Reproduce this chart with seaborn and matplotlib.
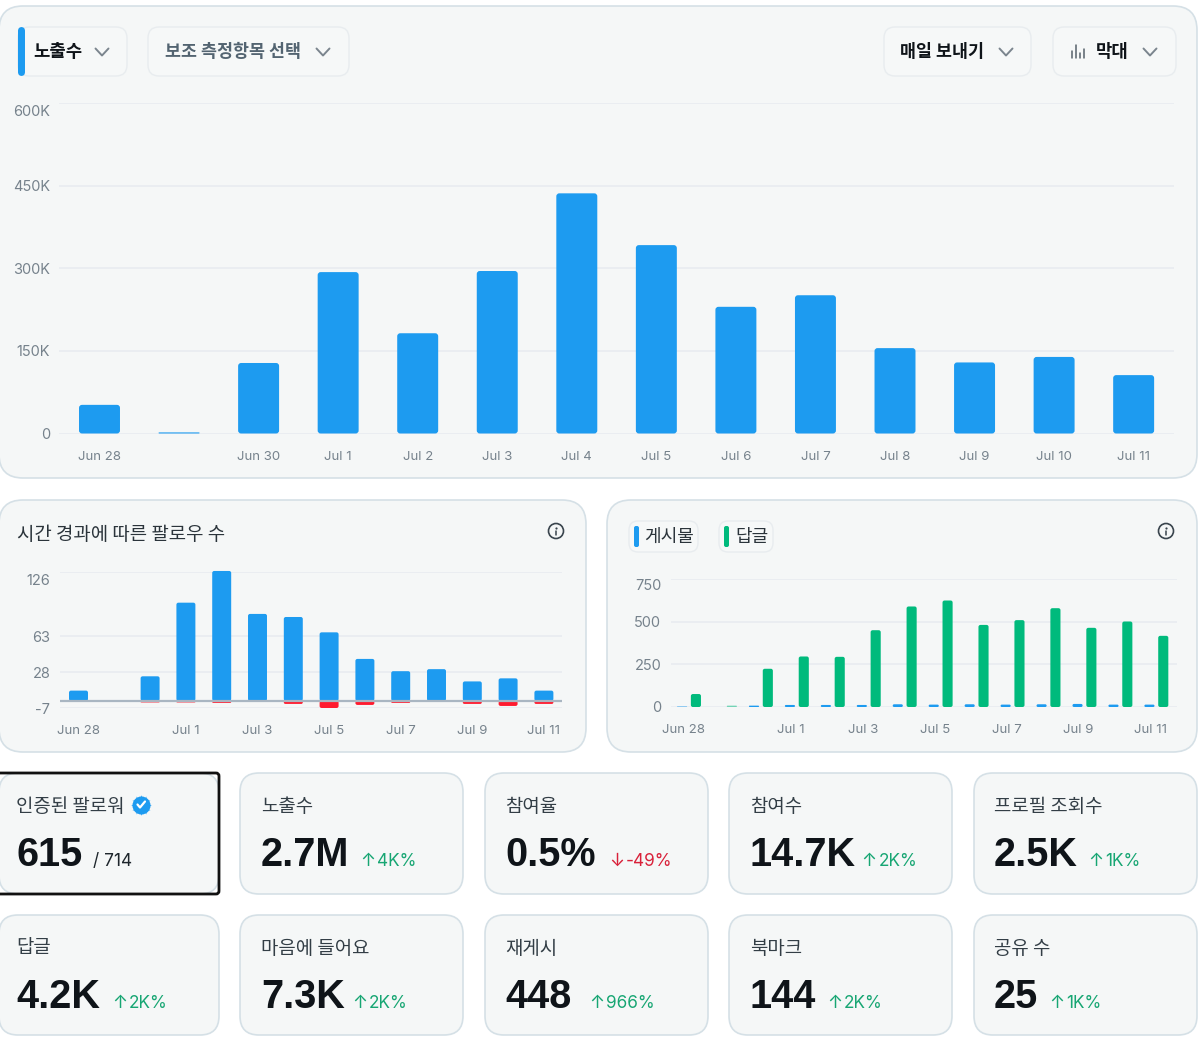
import matplotlib
matplotlib.use("Agg")
import matplotlib.pyplot as plt
import pandas as pd
import seaborn as sns
from matplotlib.patches import FancyBboxPatch, Circle
from matplotlib.transforms import ScaledTranslation

# ---- data ----
days = ["Jun 28", "Jun 29", "Jun 30", "Jul 1", "Jul 2", "Jul 3", "Jul 4",
        "Jul 5", "Jul 6", "Jul 7", "Jul 8", "Jul 9", "Jul 10", "Jul 11"]
impressions = [52, 2, 128, 293, 182, 295, 436, 342, 230, 251, 155, 129, 139, 106]
impression_ticks = [0, 150, 300, 450, 600]
impression_tick_labels = ["0", "150K", "300K", "450K", "600K"]
impression_day_labels = ["Jun 28", "", "Jun 30", "Jul 1", "Jul 2", "Jul 3", "Jul 4",
                         "Jul 5", "Jul 6", "Jul 7", "Jul 8", "Jul 9", "Jul 10", "Jul 11"]

follows = [10, 0, 24, 96, 127, 85, 82, 67, 41, 29, 31, 19, 22, 10]
unfollows = [0, 0, -2, -2, -2, 0, -3, -7, -4, -2, -1, -3, -5, -3]
follower_ticks = [-7, 28, 63, 126]
sparse_day_labels = ["Jun 28", "", "", "Jul 1", "", "Jul 3", "", "Jul 5", "",
                     "Jul 7", "", "Jul 9", "", "Jul 11"]

posts = [5, 0, 8, 12, 12, 12, 16, 14, 16, 14, 16, 18, 14, 14]
replies = [76, 8, 224, 296, 294, 450, 589, 624, 481, 509, 579, 464, 501, 417]
activity_ticks = [0, 250, 500, 750]

kpi_titles = ["인증된 팔로워", "노출수", "참여율", "참여수", "프로필 조회수",
              "답글", "마음에 들어요", "재게시", "북마크", "공유 수"]
kpi_values = ["615", "2.7M", "0.5%", "14.7K", "2.5K", "4.2K", "7.3K", "448", "144", "25"]
kpi_deltas = ["/ 714", "4K%", "-49%", "2K%", "1K%", "2K%", "2K%", "966%", "2K%", "1K%"]

# ---- layout and colours ----
W, H = 1200, 1040
BLUE, GREEN, RED = "#1D9BF0", "#00BA7C", "#FF1A2E"
CARD, EDGE, GRID = "#F5F7F7", "#D5E0E6", "#E8ECF0"
INK, MUTED, SOFT = "#0F1419", "#536471", "#76828C"
UP, DOWN = "#17A673", "#D9213A"

sns.set_theme(style="white")
plt.rcParams["font.family"] = ["Inter", "Noto Sans CJK KR", "DejaVu Sans"]
HANGUL = ["Noto Sans CJK KR", "DejaVu Sans"]

fig = plt.figure(figsize=(W / 100, H / 100), dpi=100, facecolor="white")
bg = fig.add_axes([0, 0, 1, 1], zorder=0)
bg.set_xlim(0, W)
bg.set_ylim(H, 0)
bg.axis("off")


def card(x0, y0, x1, y1, r=20, fc=CARD, ec=EDGE, lw=1.2):
    bg.add_patch(FancyBboxPatch((x0 + r, y0 + r), x1 - x0 - 2 * r, y1 - y0 - 2 * r,
                                boxstyle=f"round,pad={r},rounding_size={r}",
                                fc=fc, ec=ec, lw=lw))


def chevron(x, y, color="#7B858E"):
    bg.plot([x - 6.5, x, x + 6.5], [y - 3.5, y + 3.5, y - 3.5], color=color, lw=1.4,
            solid_capstyle="round", solid_joinstyle="round")


def info_icon(x, y):
    bg.add_patch(Circle((x, y), 7.5, fc="none", ec="#39444D", lw=1.2))
    bg.plot([x, x], [y + 0.2, y + 3.8], color="#39444D", lw=1.1)
    bg.plot([x], [y - 3.2], "o", ms=1.6, color="#39444D", mew=0)


def pill(x0, x1, y0, y1, label, tx, weight="bold", color=INK, size=12.8):
    card(x0, y0, x1, y1, r=11, fc="#F6F8F8", ec="#E8ECEF", lw=1)
    bg.text(tx, (y0 + y1) / 2 + 0.5, label, family=HANGUL, fontsize=size, fontweight=weight,
            color=color, va="center", ha="left")


def chart_axes(x0, x1, y_top, y_bottom, first_px, step_px, ylim):
    ax = fig.add_axes([x0 / W, 1 - y_bottom / H, (x1 - x0) / W, (y_bottom - y_top) / H], zorder=2)
    ax.patch.set_alpha(0)
    ax.set_xlim((x0 - first_px) / step_px, (x1 - first_px) / step_px)
    ax.set_ylim(*ylim)
    return ax


def round_bars(ax, radius_px, faint=()):
    """Swap the rectangles seaborn drew for rounded ones of the same size."""
    bb = ax.get_position()
    x_per_px = (ax.get_xlim()[1] - ax.get_xlim()[0]) / (bb.width * W)
    y_per_px = (ax.get_ylim()[1] - ax.get_ylim()[0]) / (bb.height * H)
    for c_idx, container in enumerate(ax.containers):
        for b_idx, rect in enumerate(container):
            x, y, w, h = rect.get_x(), rect.get_y(), rect.get_width(), rect.get_height()
            color = rect.get_facecolor()
            rect.remove()
            if h == 0:
                continue
            h_px = abs(h) / y_per_px
            r = min(radius_px, h_px / 2, w / x_per_px / 2) * x_per_px
            y0 = min(y, y + h)
            alpha = 0.5 if (c_idx, b_idx) in faint else 1
            ax.add_patch(FancyBboxPatch((x, y0), w, abs(h),
                                        boxstyle=f"round,pad=0,rounding_size={r}",
                                        mutation_aspect=y_per_px / x_per_px,
                                        fc=color, ec="none", alpha=alpha,
                                        clip_on=False, zorder=3))


def style_axes(ax, yticks, ylabels, xlabels, xpad, top_shift_px=0, ypad=7):
    ax.set_xlabel("")
    ax.set_ylabel("")
    ax.set_yticks(yticks, ylabels)
    ax.set_xticks(range(len(xlabels)), xlabels)
    ax.tick_params(axis="x", length=0, pad=xpad, labelsize=9.5, labelcolor=SOFT)
    ax.tick_params(axis="y", length=0, pad=ypad, labelsize=10.5, labelcolor=SOFT)
    ax.grid(axis="y", color=GRID, lw=1.2, zorder=0)
    ax.set_axisbelow(True)
    sns.despine(ax=ax, left=True, bottom=True)
    top_label = ax.get_yticklabels()[-1]
    top_label.set_transform(top_label.get_transform()
                            + ScaledTranslation(0, -top_shift_px / 100, fig.dpi_scale_trans))


# ---- panels ----
card(-1, 6, 1197, 478, r=24)
card(-1, 500, 586, 752, r=24)
card(607, 500, 1197, 752, r=24)

pill(18, 127, 27, 76, "노출수", 33)
bg.add_patch(FancyBboxPatch((18, 27), 7, 49, boxstyle="round,pad=0,rounding_size=4", fc=BLUE, ec="none"))
chevron(102, 52)
pill(148, 349, 27, 76, "보조 측정항목 선택", 165, color=MUTED, size=12.5)
chevron(323, 52)
pill(884, 1031, 27, 76, "매일 보내기", 900, size=12.5)
chevron(1006, 52)
pill(1053, 1176, 27, 76, "막대", 1096)
chevron(1150, 52)
for bx, bh in zip([1072, 1076, 1080, 1084], [7, 13, 5, 9]):
    bg.plot([bx, bx], [58, 58 - bh], color="#56616B", lw=1.1)

bg.text(17, 534.5, "시간 경과에 따른 팔로우 수", family=HANGUL, fontsize=13.6, color="#2B343B",
        fontweight="medium", va="center")
info_icon(556, 531)
info_icon(1166, 531)

for x0, x1, tx, col, label in [(629, 698, 644, BLUE, "게시물"), (719, 773, 735, GREEN, "답글")]:
    card(x0, 521, x1, 552, r=9, fc="#F6F8F8", ec="#E8ECEF", lw=1)
    bg.add_patch(FancyBboxPatch((x0 + 5, 526), 5, 21, boxstyle="round,pad=0,rounding_size=2", fc=col, ec="none"))
    bg.text(tx, 537, label, family=HANGUL, fontsize=13, color="#2B343B", fontweight="medium",
            va="center", ha="left")

# ---- main impressions chart ----
ax1 = chart_axes(59, 1174, 103, 433.5, 99.5, 79.55, (0, 600))
sns.barplot(data=pd.DataFrame({"day": days, "impressions": impressions}), x="day", y="impressions",
            color=BLUE, saturation=1, width=0.515, ax=ax1)
ax1.set_xlim((59 - 99.5) / 79.55, (1174 - 99.5) / 79.55)
round_bars(ax1, 3)
style_axes(ax1, impression_ticks, impression_tick_labels, impression_day_labels, 12.3, top_shift_px=7, ypad=6.5)

# ---- followers over time ----
ax2 = chart_axes(60, 562, 572, 708, 78.5, 35.8, (-7, 126))
follower_frame = pd.DataFrame({"day": days, "follows": follows, "unfollows": unfollows})
sns.barplot(data=follower_frame, x="day", y="unfollows", color=RED, saturation=1, width=0.53, ax=ax2)
sns.barplot(data=follower_frame, x="day", y="follows", color=BLUE, saturation=1, width=0.53, ax=ax2)
ax2.set_xlim((60 - 78.5) / 35.8, (562 - 78.5) / 35.8)
ax2.set_ylim(-7, 126)
round_bars(ax2, 2, faint={(0, 2), (0, 3), (0, 10)})
ax2.axhline(0, color="#A9B6C2", lw=1.6, zorder=4)
style_axes(ax2, follower_ticks, [str(t) for t in follower_ticks], sparse_day_labels, 12.3, top_shift_px=7, ypad=7)

# ---- posts and replies ----
ax3 = chart_axes(671, 1177, 579, 707, 689, 35.95, (0, 750))
activity = pd.DataFrame({"day": days * 2, "count": posts + replies,
                         "kind": ["게시물"] * len(days) + ["답글"] * len(days)})
sns.barplot(data=activity, x="day", y="count", hue="kind", palette=[BLUE, GREEN], saturation=1,
            width=0.77, gap=0.27, legend=False, ax=ax3)
ax3.set_xlim((671 - 689) / 35.95, (1177 - 689) / 35.95)
round_bars(ax3, 2, faint={(0, 0), (1, 1)})
style_axes(ax3, activity_ticks, [str(t) for t in activity_ticks], sparse_day_labels, 12.3, top_shift_px=6, ypad=7)
for lab in ax3.get_xticklabels():
    lab.set_transform(lab.get_transform() + ScaledTranslation(-6 / 100, 0, fig.dpi_scale_trans))

# ---- metric tiles ----
tile_x = [(-1, 219), (240, 463), (485, 708), (729, 952), (974, 1197)]
tile_y = [(773, 894), (915, 1035)]
text_x = [16, 261, 505, 750, 994, 16, 261, 505, 750, 994]
arrow_x = [None, 368, 617, 869, 1096, 120, 360, 597, 835, 1057]
delta_x = [93, 377, 626, 879, 1105, 129, 369, 606, 844, 1066]

for i, (title, value, delta) in enumerate(zip(kpi_titles, kpi_values, kpi_deltas)):
    row = i // 5
    x0, x1 = tile_x[i % 5]
    y0, y1 = tile_y[row]
    card(x0, y0, x1, y1, r=19)
    bg.text(text_x[i], y0 + 33, title, family=HANGUL, fontsize=13.6, color="#333E46",
            fontweight="medium", va="center", ha="left")
    bg.text(text_x[i], y0 + 81.5, value, family="Liberation Sans", fontsize=28.5, fontweight="bold",
            color=INK, va="center", ha="left")
    is_down = delta.startswith("-")
    if i == 0:
        bg.text(delta_x[i], y0 + 89, delta, fontsize=12.4, color="#1E262C", va="center", ha="left")
    else:
        tone = DOWN if is_down else UP
        bg.text(arrow_x[i], y0 + 88.5, "↓" if is_down else "↑", fontsize=13, color=tone, va="center", ha="center")
        bg.text(delta_x[i], y0 + 89, delta, fontsize=12.4, color=tone, va="center", ha="left")

# focus outline and verified badge on the first tile
bg.add_patch(FancyBboxPatch((-6, 773), 225, 121, boxstyle="round,pad=0,rounding_size=3",
                            fc="none", ec="#111111", lw=2))
bg.plot([141], [804.5], marker=(12, 1, 0), ms=15, color=BLUE, mew=0)
bg.plot([141], [804.5], "o", ms=13, color=BLUE, mew=0)
bg.plot([137.5, 140, 145], [804.5, 807.5, 801.5], color="white", lw=1.6)

fig.savefig("out.png", dpi=100, facecolor="white")
